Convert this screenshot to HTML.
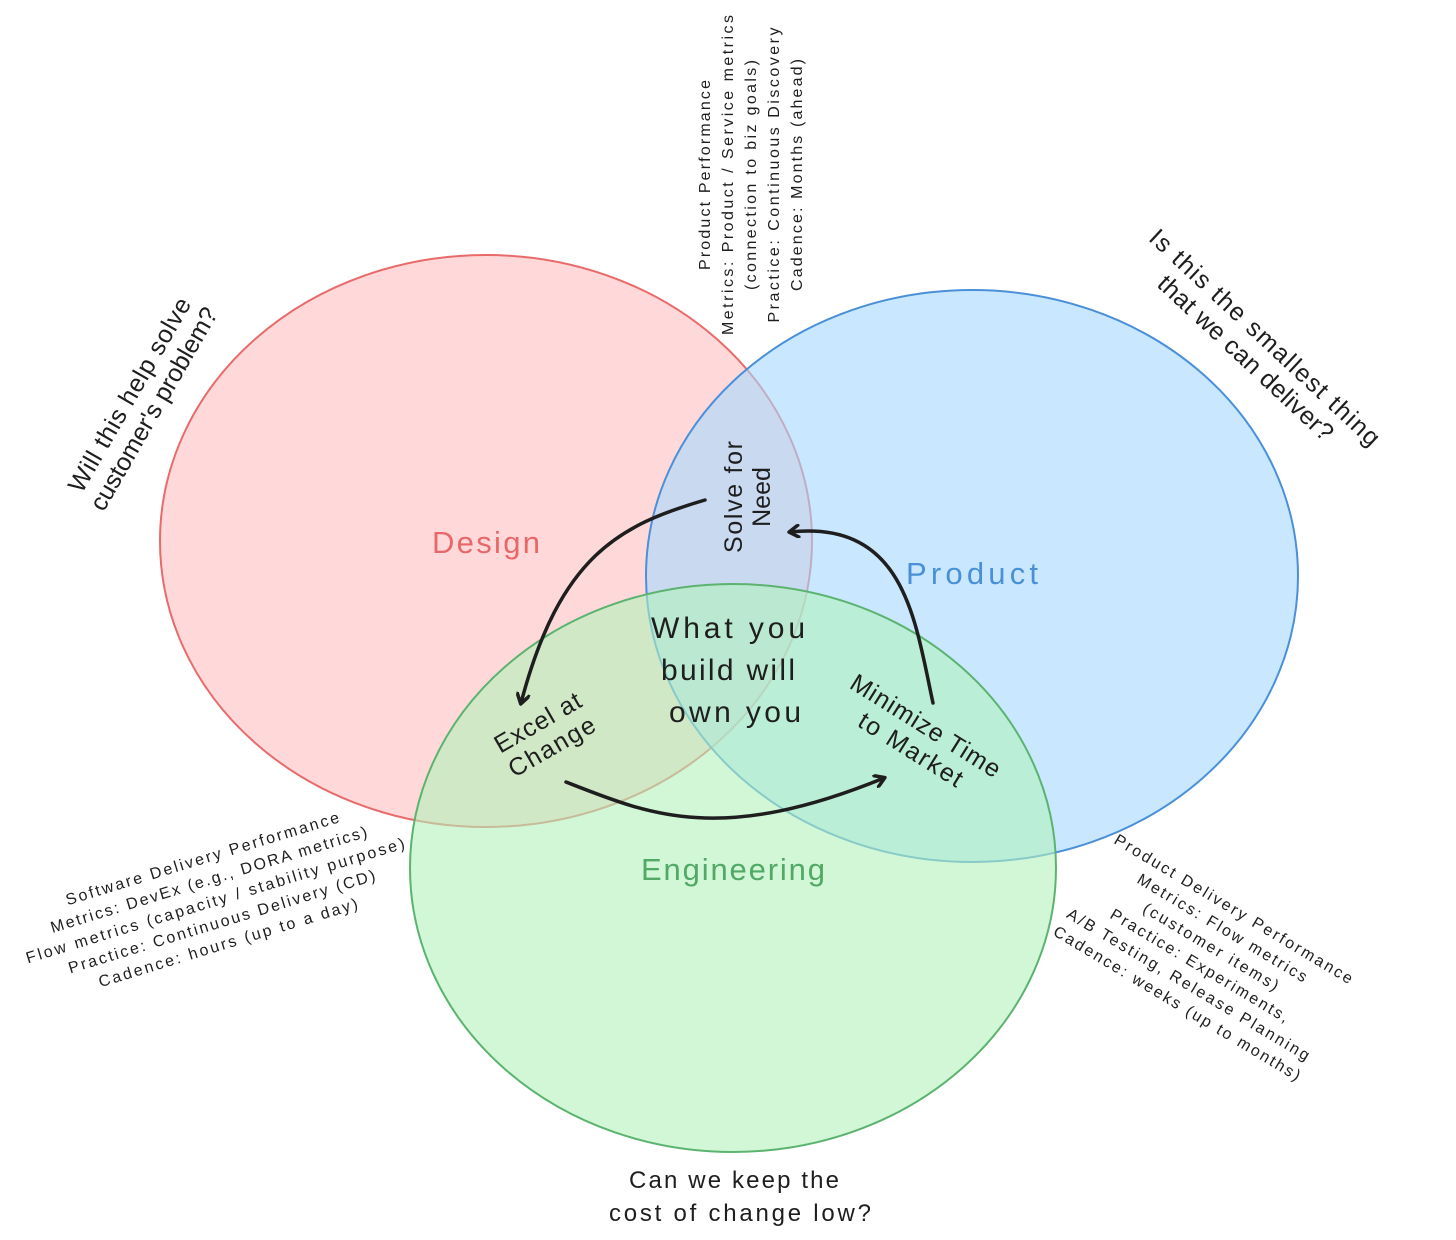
<!DOCTYPE html>
<html><head><meta charset="utf-8"><style>
html,body{margin:0;padding:0;background:#fff;}
svg text{font-family:"Liberation Sans",sans-serif;}
</style></head><body>
<svg width="1456" height="1235" viewBox="0 0 1456 1235" xmlns="http://www.w3.org/2000/svg">
<defs>
<marker id="ah" markerWidth="14" markerHeight="14" refX="10" refY="7" orient="auto" markerUnits="userSpaceOnUse">
<path d="M0,0 L11,7 L0,14" fill="none" stroke="#1e1e1e" stroke-width="3.5" stroke-linecap="round" stroke-linejoin="round"/>
</marker>
</defs>
<ellipse cx="486" cy="541" rx="326" ry="286" fill="#ffc9c9" fill-opacity="0.7" stroke="#e86a6a" stroke-width="2"/>
<ellipse cx="972" cy="576" rx="326" ry="286" fill="#a5d8ff" fill-opacity="0.6" stroke="#4a90d9" stroke-width="2"/>
<ellipse cx="733" cy="868" rx="323" ry="284" fill="#b2f2bb" fill-opacity="0.6" stroke="#5cb370" stroke-width="2"/>

<text x="486" y="553" font-size="31" fill="#e8686a" text-anchor="middle" textLength="108">Design</text>
<text x="972" y="584" font-size="31" fill="#4a90d9" text-anchor="middle" textLength="132">Product</text>
<text x="733" y="880" font-size="31" fill="#52a866" text-anchor="middle" textLength="184">Engineering</text>

<g font-size="30" fill="#1e1e1e" text-anchor="middle">
<text x="728" y="638" textLength="154">What you</text>
<text x="728" y="680" textLength="134">build will</text>
<text x="735" y="722" textLength="132">own you</text>
</g>

<g font-size="25" fill="#1e1e1e" text-anchor="middle" transform="translate(745,497) rotate(-90)">
<text x="0" y="-3" textLength="112">Solve for</text>
<text x="0" y="25">Need</text>
</g>
<g font-size="25" fill="#1e1e1e" text-anchor="middle" transform="translate(545,735) rotate(-30)">
<text x="0" y="-6" textLength="96">Excel at</text>
<text x="0" y="22" textLength="96">Change</text>
</g>
<g font-size="25" fill="#1e1e1e" text-anchor="middle" transform="translate(918,738) rotate(32)">
<text x="0" y="-6" textLength="172">Minimize Time</text>
<text x="0" y="22" textLength="118">to Market</text>
</g>

<g font-size="16" fill="#1e1e1e" text-anchor="middle" transform="translate(755,175) rotate(-90)">
<text x="0" y="-45" textLength="190">Product Performance</text>
<text x="0" y="-22" textLength="320">Metrics: Product / Service metrics</text>
<text x="0" y="1" textLength="230">(connection to biz goals)</text>
<text x="0" y="24" textLength="295">Practice: Continuous Discovery</text>
<text x="0" y="47" textLength="232">Cadence: Months (ahead)</text>
</g>

<g font-size="25" fill="#1e1e1e" text-anchor="middle" transform="translate(142,402) rotate(-60)">
<text x="0" y="-6" textLength="220">Will this help solve</text>
<text x="0" y="22" textLength="230">customer's problem?</text>
</g>
<g font-size="25" fill="#1e1e1e" text-anchor="middle" transform="translate(1255,348) rotate(43)">
<text x="0" y="-6" textLength="305">Is this the smallest thing</text>
<text x="0" y="22" textLength="230">that we can deliver?</text>
</g>

<g font-size="16" fill="#1e1e1e" text-anchor="middle" transform="translate(215,900) rotate(-17)">
<text x="0" y="-38" textLength="285">Software Delivery Performance</text>
<text x="0" y="-16" textLength="330">Metrics: DevEx (e.g., DORA metrics)</text>
<text x="0" y="6" textLength="395">Flow metrics (capacity / stability purpose)</text>
<text x="0" y="28" textLength="320">Practice: Continuous Delivery (CD)</text>
<text x="0" y="50" textLength="270">Cadence: hours (up to a day)</text>
</g>
<g font-size="16" fill="#1e1e1e" text-anchor="middle" transform="translate(1200,965) rotate(31)">
<text x="0" y="-60" textLength="275">Product Delivery Performance</text>
<text x="0" y="-38" textLength="195">Metrics: Flow metrics</text>
<text x="0" y="-16" textLength="155">(customer items)</text>
<text x="0" y="6" textLength="205">Practice: Experiments,</text>
<text x="0" y="28" textLength="280">A/B Testing, Release Planning</text>
<text x="0" y="50" textLength="285">Cadence: weeks (up to months)</text>
</g>

<g font-size="24" fill="#1e1e1e" text-anchor="middle">
<text x="734" y="1188" textLength="210">Can we keep the</text>
<text x="740" y="1221" textLength="262">cost of change low?</text>
</g>

<g fill="none" stroke="#1e1e1e" stroke-width="3.5" stroke-linecap="round" marker-end="url(#ah)">
<path d="M705,500 C620,525 560,555 521,703"/>
<path d="M566,782 C650,815 720,845 884,778"/>
<path d="M933,703 C915,620 905,520 790,532"/>
</g>
</svg>
</body></html>
